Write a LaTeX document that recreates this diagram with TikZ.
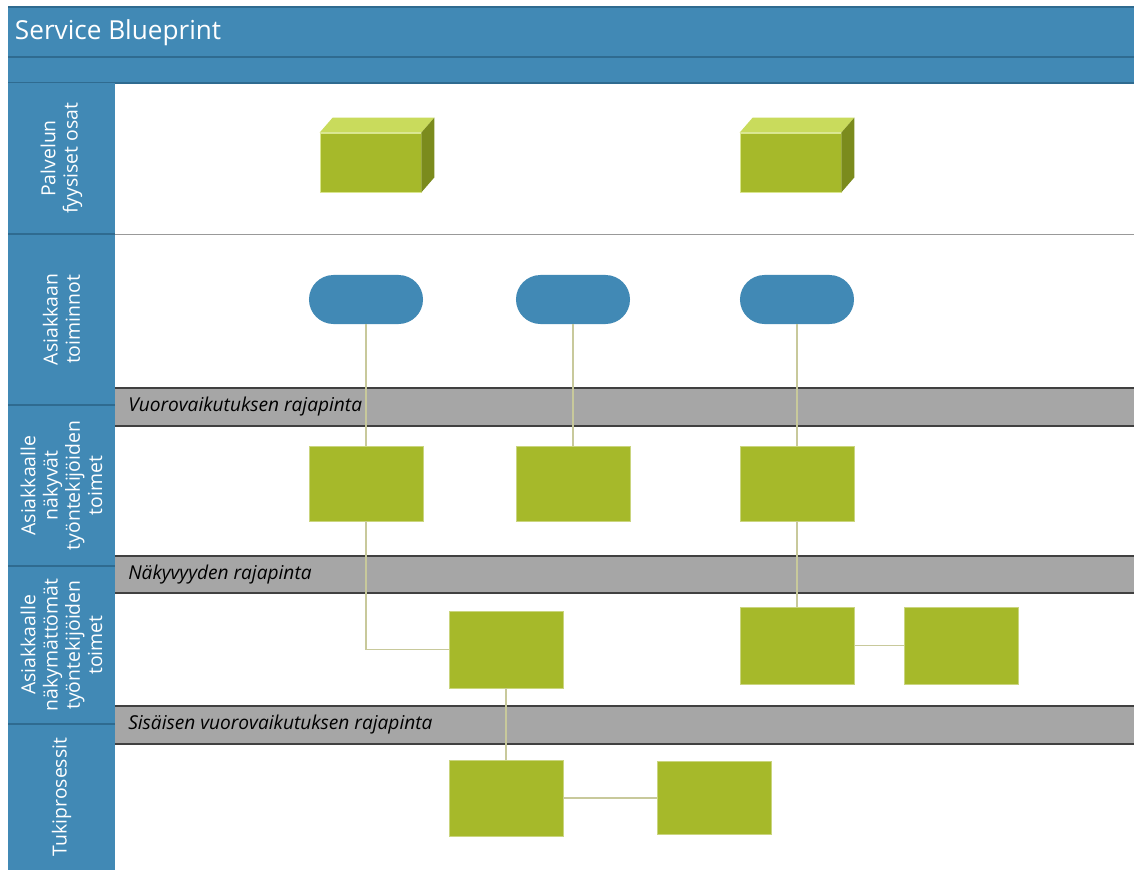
\documentclass[tikz,border=0pt]{standalone}
\usepackage{fontspec}
\setmainfont{Open Sans}
\usetikzlibrary{calc, shapes.misc}
\definecolor{bpblue}{HTML}{4189B5}
\definecolor{bpedge}{HTML}{2F6B90}
\definecolor{bpgreen}{HTML}{A6B92A}
\definecolor{bptop}{HTML}{C9DB5C}
\definecolor{bpside}{HTML}{7B8B1D}
\definecolor{bpgray}{HTML}{A6A6A6}
\definecolor{bpline}{HTML}{C8C99B}

\begin{document}
\begin{tikzpicture}[x=0.025cm, y=-0.025cm,
  lane/.style={font=\fontsize{13.8}{15.8}\selectfont, text=white,
    align=center, rotate=90},
  bandtxt/.style={anchor=west, font=\fontsize{13.6}{15}\selectfont\itshape,
    inner sep=0pt},
  act/.style={fill=bpgreen, draw=bpgreen!60!white, line width=0.5pt,
    minimum width=2.85cm, minimum height=#1, inner sep=0pt},
  cust/.style={rounded rectangle, fill=bpblue, minimum width=2.85cm,
    minimum height=1.225cm, inner sep=0pt},
  prop/.style={fill=bpgreen, draw=bptop!70!white, line width=0.5pt,
    minimum width=2.525cm, minimum height=1.475cm, inner sep=0pt},
  conn/.style={draw=bpline, line width=0.8pt}
]
  \fill[white] (0,0) rectangle (1134,870);
  \useasboundingbox (0,0) rectangle (1134,870);

  % Header
  \fill[bpblue] (8,7) rectangle (1134,83);
  \draw[bpedge, line width=0.8pt] (8,7) -- (1134,7);
  \draw[bpedge, line width=0.8pt] (8,57) -- (1134,57);
  \draw[bpedge, line width=0.8pt] (8,83) -- (1134,83);
  \node[anchor=west, text=white, font=\fontsize{18.6}{20}\selectfont]
    (title) at (10,33) {Service Blueprint};

  % Lane titles
  \fill[bpblue] (8,83) rectangle (115,870);
  \foreach \y in {234, 405, 566, 724}
    \draw[bpedge, line width=0.8pt] (8,\y) -- (115,\y);
  \node[lane] (l1) at (61.5,158.5) {Palvelun\\fyysiset osat};
  \node[lane] (l2) at (61.5,319.5) {Asiakkaan\\toiminnot};
  \node[lane] (l3) at (61.5,485.5)
    {Asiakkaalle\\näkyvät\\työntekijöiden\\toimet};
  \node[lane] (l4) at (61.5,645)
    {Asiakkaalle\\näkymättömät\\työntekijöiden\\toimet};
  \node[lane] (l5) at (61.5,797) {Tukiprosessit};

  % Lines of interaction
  \draw[black!40, line width=0.6pt] (115,234) -- (1134,234);
  \foreach \ya/\yb in {388/426, 556/593, 706/744} {
    \fill[bpgray] (115,\ya) rectangle (1134,\yb);
    \draw[black!75, line width=0.9pt] (115,\ya) -- (1134,\ya);
    \draw[black!75, line width=0.9pt] (115,\yb) -- (1134,\yb);
  }
  \node[bandtxt] (b1) at (128,407) {Vuorovaikutuksen rajapinta};
  \node[bandtxt] (b2) at (128,575) {Näkyvyyden rajapinta};
  \node[bandtxt] (b3) at (128,725) {Sisäisen vuorovaikutuksen rajapinta};

  % Physical evidence
  \foreach \n/\x in {p1/370.5, p2/790.5} {
    \node[prop] (\n) at (\x,162.5) {};
    \fill[bptop] (\n.north west) -- ++(13,-15)
      -- ($(\n.north east)+(13,-15)$) -- (\n.north east) -- cycle;
    \fill[bpside] (\n.north east) -- ++(13,-15)
      -- ($(\n.south east)+(13,-15)$) -- (\n.south east) -- cycle;
  }

  % Customer actions
  \node[cust] (c1) at (366,299.5) {};
  \node[cust] (c2) at (573,299.5) {};
  \node[cust] (c3) at (797,299.5) {};

  % Onstage actions
  \node[act=1.875cm] (v1) at (366,483.5) {};
  \node[act=1.875cm] (v2) at (573,483.5) {};
  \node[act=1.875cm] (v3) at (797,483.5) {};

  % Backstage actions
  \node[act=1.925cm] (h1) at (506,649.5) {};
  \node[act=1.925cm] (h2) at (797,645.5) {};
  \node[act=1.925cm] (h3) at (961,645.5) {};

  % Support processes
  \node[act=1.9cm] (s1) at (506,798) {};
  \node[act=1.825cm] (s2) at (714,798) {};

  % Connectors
  \draw[conn] (c1.south) -- (v1.north);
  \draw[conn] (c2.south) -- (v2.north);
  \draw[conn] (c3.south) -- (v3.north);
  \draw[conn] (v1.south) |- (h1.west);
  \draw[conn] (v3.south) -- (h2.north);
  \draw[conn] (h2.east) -- (h3.west);
  \draw[conn] (h1.south) -- (s1.north);
  \draw[conn] (s1.east) -- (s2.west);
\end{tikzpicture}
\end{document}
